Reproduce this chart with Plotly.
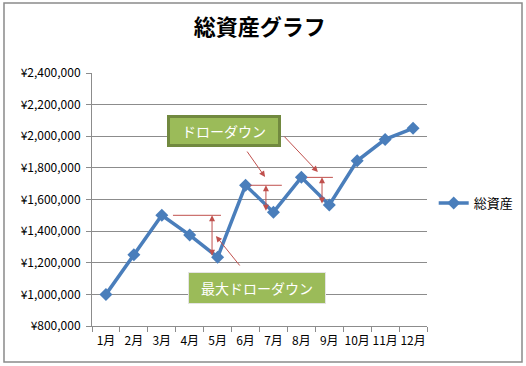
import plotly.graph_objects as go

months = ["1月", "2月", "3月", "4月", "5月", "6月", "7月", "8月", "9月", "10月", "11月", "12月"]
total_assets = [1000000, 1250000, 1500000, 1375000, 1235000, 1690000,
                1520000, 1740000, 1565000, 1845000, 1980000, 2050000]
y_ticks = [800000, 1000000, 1200000, 1400000, 1600000, 1800000, 2000000, 2200000, 2400000]
y_tick_labels = ["¥{:,}".format(v) for v in y_ticks]
series_name = "総資産"
title_text = "総資産グラフ"
label_dd = "ドローダウン"
label_max_dd = "最大ドローダウン"

FONT = "Noto Sans CJK JP"
RED = "#C0504D"
BLUE = "#4A7EBB"
GRID = "#8C8C8C"

fig = go.Figure()
fig.add_trace(go.Scatter(
    x=months, y=total_assets, name=series_name, mode="lines+markers",
    line=dict(color=BLUE, width=3.5),
    marker=dict(symbol="diamond", size=10, color=BLUE),
))

shapes = []
annotations = []

# drawdown markers: (peak index, trough index, line x-from, line x-to, arrow x)
dd_marks = [(2, 4, 2.40, 4.12, 3.80), (5, 6, 5.16, 6.30, 5.73), (7, 8, 7.20, 8.13, 7.74)]
for pk, tr, x0, x1, xa in dd_marks:
    shapes.append(dict(type="line", xref="x", yref="y", x0=x0, x1=x1,
                       y0=total_assets[pk], y1=total_assets[pk],
                       line=dict(color=RED, width=1)))
    annotations.append(dict(x=xa, y=total_assets[pk], ax=xa, ay=total_assets[tr],
                            xref="x", yref="y", axref="x", ayref="y", text="",
                            showarrow=True, arrowhead=2, arrowside="end+start",
                            arrowsize=1.2, arrowwidth=1, arrowcolor=RED))

# pointer arrows from labels
pointers = [(3.94, 1369000, 25, 31), (5.70, 1742000, -19, -27), (7.59, 1774000, -35, -37)]
for px, py, ax, ay in pointers:
    annotations.append(dict(x=px, y=py, ax=ax, ay=ay, xref="x", yref="y", text="",
                            showarrow=True, arrowhead=2, arrowsize=1.2,
                            arrowwidth=1, arrowcolor=RED))

# label boxes
annotations.append(dict(x=0.3955, y=0.7688, xref="paper", yref="paper",
                        xanchor="center", yanchor="middle",
                        text=label_dd, showarrow=False,
                        font=dict(family=FONT, size=14, color="white"),
                        bgcolor="#9BBB59", bordercolor="#71893F", borderwidth=3,
                        borderpad=4, width=100, height=18))
annotations.append(dict(x=0.4925, y=0.152, xref="paper", yref="paper",
                        xanchor="center", yanchor="middle",
                        text=label_max_dd, showarrow=False,
                        font=dict(family=FONT, size=14, color="white"),
                        bgcolor="#9BBB59", bordercolor="#E4E4E4", borderwidth=1,
                        borderpad=5, width=126, height=20))

# chart frame
shapes.append(dict(type="rect", xref="paper", yref="paper",
                   x0=-0.2627, x1=1.2836, y0=-0.1423, y1=1.2767,
                   line=dict(color="#8A8A8A", width=1.5), layer="below"))

fig.update_layout(
    width=526, height=366,
    margin=dict(l=92, r=99, t=73, b=40, autoexpand=False),
    paper_bgcolor="white", plot_bgcolor="white",
    title=dict(text="<b>" + title_text + "</b>", x=0.494, xanchor="center",
               y=0.926, yanchor="middle",
               font=dict(family=FONT, size=22, color="black")),
    font=dict(family=FONT, size=12, color="black"),
    showlegend=True,
    legend=dict(x=1.02, xanchor="left", y=0.486, yanchor="middle",
                font=dict(family=FONT, size=13, color="black"),
                bgcolor="rgba(0,0,0,0)"),
    shapes=shapes, annotations=annotations,
)
fig.update_xaxes(type="category", range=[-0.5, 11.5], showgrid=False,
                 showline=True, linecolor=GRID, linewidth=1, automargin=False,
                 ticks="outside", tickson="boundaries", ticklen=5, tickcolor=GRID,
                 tickangle=0, ticklabelstandoff=4,
                 tickfont=dict(family=FONT, size=12, color="black"))
fig.update_yaxes(range=[800000, 2400000], tickvals=y_ticks, ticktext=y_tick_labels,
                 showgrid=True, gridcolor=GRID, gridwidth=1, automargin=False,
                 showline=True, linecolor=GRID, linewidth=1,
                 ticks="outside", ticklen=5, tickcolor=GRID, zeroline=False,
                 ticklabelstandoff=3,
                 tickfont=dict(family=FONT, size=12, color="black"))

fig.write_html("out.html", config={"displayModeBar": False},
               post_script="document.body.style.margin='0';document.body.style.overflow='hidden';")
